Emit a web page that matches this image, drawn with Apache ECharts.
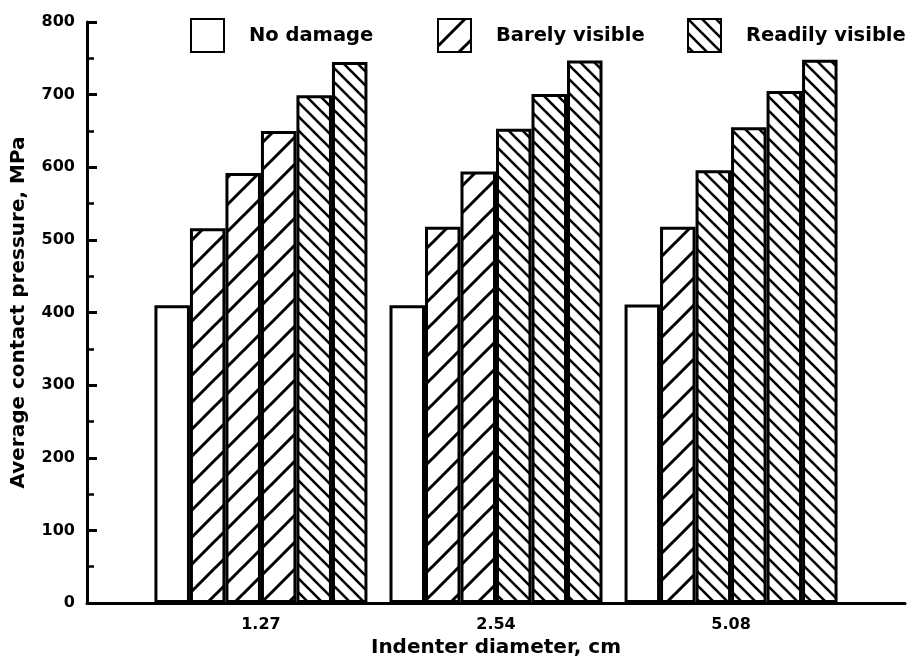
<!DOCTYPE html>
<html>
<head>
<meta charset="utf-8">
<script src="https://cdn.jsdelivr.net/npm/echarts@6/dist/echarts.min.js"></script>
<style>
html,body{margin:0;padding:0;background:#fff;}
#chart{width:910px;height:665px;}
</style>
</head>
<body>
<div id="chart"></div>
<script>
// ---- data ----
const diameters = ['1.27', '2.54', '5.08'];
const damageLevels = ['No damage', 'Barely visible', 'Readily visible'];
const test1 = [410, 410, 411];
const test2 = [516, 518, 518];
const test3 = [592, 594, 596];
const test4 = [650, 653, 655];
const test5 = [699, 701, 705];
const test6 = [745, 747, 748];
// damage level index (into damageLevels) of each test at each diameter
const level1 = [0, 0, 0];
const level2 = [1, 1, 1];
const level3 = [1, 1, 2];
const level4 = [1, 2, 2];
const level5 = [2, 2, 2];
const level6 = [2, 2, 2];
const yTicks = [0, 100, 200, 300, 400, 500, 600, 700, 800];

const tests = [test1, test2, test3, test4, test5, test6];
const levels = [level1, level2, level3, level4, level5, level6];

// ---- hatch patterns ----
function hatch(dir, p, w) {
  const c = document.createElement('canvas');
  c.width = p; c.height = p;
  const ctx = c.getContext('2d');
  ctx.fillStyle = '#fff';
  ctx.fillRect(0, 0, p, p);
  ctx.strokeStyle = '#000';
  ctx.lineWidth = w;
  ctx.lineCap = 'square';
  for (let k = -1; k <= 1; k++) {
    ctx.beginPath();
    if (dir === '/') { ctx.moveTo(k * p, p); ctx.lineTo(k * p + p, 0); }
    else { ctx.moveTo(k * p, 0); ctx.lineTo(k * p + p, p); }
    ctx.stroke();
  }
  return { image: c, repeat: 'repeat' };
}
const fills = ['#ffffff', hatch('/', 27, 3), hatch('\\', 14, 2.6)];
function styleFor(lv) {
  return { color: fills[lv], borderColor: '#000', borderWidth: 3 };
}

const FONT = 'DejaVu Sans';

const series = tests.map((t, k) => ({
  type: 'bar',
  name: 'Test ' + (k + 1),
  xAxisIndex: 0,
  yAxisIndex: 0,
  barWidth: 35.5,
  barGap: '0%',
  silent: true,
  data: diameters.map((d, i) => ({
    value: [i + 1, t[i]],
    itemStyle: styleFor(levels[k][i])
  }))
}));
damageLevels.forEach((name, lv) => {
  series.push({
    type: 'bar', name: name, xAxisIndex: 1, yAxisIndex: 0,
    itemStyle: styleFor(lv), data: []
  });
});

const legendLeft = [190, 437, 687];
const legends = damageLevels.map((name, lv) => ({
  data: [name],
  left: legendLeft[lv],
  top: 18,
  padding: 0,
  icon: 'rect',
  itemWidth: 33,
  itemHeight: 33,
  selectedMode: false,
  textStyle: { fontFamily: FONT, fontWeight: 'bold', fontSize: 19.5, color: '#000', padding: [0, 0, 0, 20] }
}));

const chart = echarts.init(document.getElementById('chart'), null, { renderer: 'canvas' });
chart.setOption({
  animation: false,
  backgroundColor: '#fff',
  legend: legends,
  grid: { left: 87, right: 5, top: 22, bottom: 62, containLabel: false },
  xAxis: [{
    type: 'value',
    min: 0.26, max: 3.74,
    name: 'Indenter diameter, cm',
    nameLocation: 'middle',
    nameGap: 34,
    nameTextStyle: { fontFamily: FONT, fontWeight: 'bold', fontSize: 20, color: '#000' },
    axisLine: { show: true, lineStyle: { color: '#000', width: 3 } },
    axisTick: { show: false },
    splitLine: { show: false },
    axisLabel: {
      customValues: [1, 2, 3],
      formatter: v => diameters[Math.round(v) - 1] || '',
      margin: 14, fontFamily: FONT, fontWeight: 'bold', fontSize: 16, color: '#000'
    }
  }, {
    type: 'value', show: false, min: 0, max: 1
  }],
  yAxis: {
    type: 'value',
    min: yTicks[0], max: yTicks[yTicks.length - 1], interval: 100,
    name: 'Average contact pressure, MPa',
    nameLocation: 'middle',
    nameRotate: 90,
    nameGap: 58,
    nameTextStyle: { fontFamily: FONT, fontWeight: 'bold', fontSize: 20, color: '#000' },
    axisLine: { show: true, lineStyle: { color: '#000', width: 3 } },
    axisTick: { show: true, inside: true, length: 10, lineStyle: { color: '#000', width: 3 } },
    minorTick: { show: true, splitNumber: 2, length: 7, lineStyle: { color: '#000', width: 2.5 } },
    splitLine: { show: false },
    axisLabel: { margin: 12, fontFamily: FONT, fontWeight: 'bold', fontSize: 16, color: '#000' }
  },
  series: series
});
</script>
</body>
</html>
